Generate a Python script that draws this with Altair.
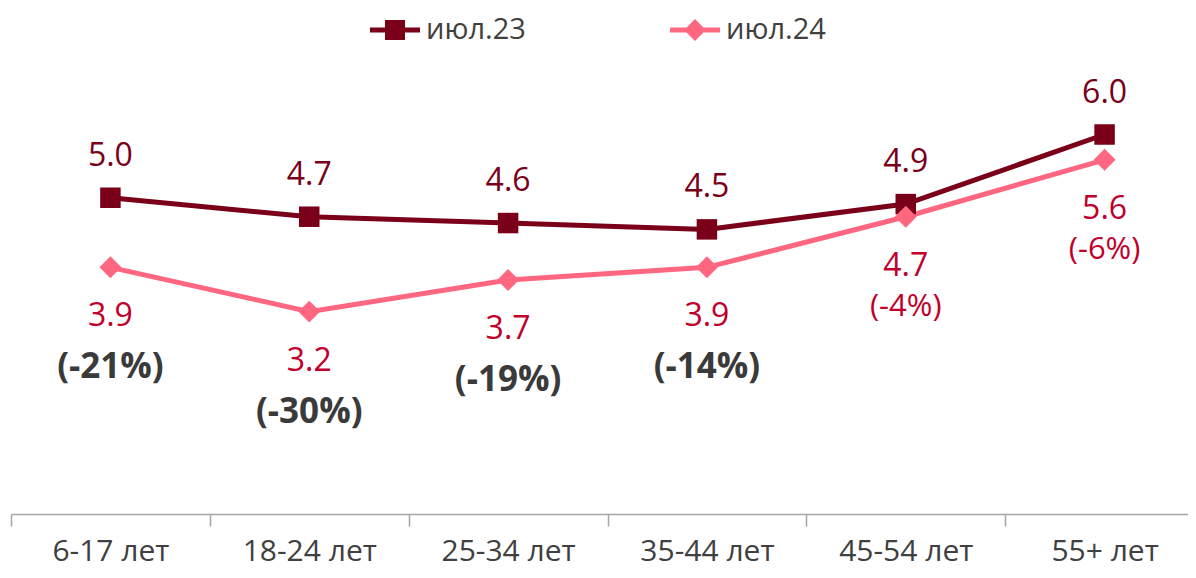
import altair as alt
import pandas as pd

categories = ["6-17 лет", "18-24 лет", "25-34 лет", "35-44 лет", "45-54 лет", "55+ лет"]
jul23 = [5.0, 4.7, 4.6, 4.5, 4.9, 6.0]
jul24 = [3.9, 3.2, 3.7, 3.9, 4.7, 5.6]
change_pct = [-21, -30, -19, -14, -4, -6]
series_names = ["июл.23", "июл.24"]

DARK = "#7A0019"
PINK = "#FF6680"
CRIMSON = "#C0002B"
GRAY = "#3A3A3A"
FONT = "Open Sans"

rows = []
for i, c in enumerate(categories):
    rows.append({"cat": c, "series": series_names[0], "value": jul23[i],
                 "label": f"{jul23[i]:.1f}", "change": 0, "chg_label": ""})
    rows.append({"cat": c, "series": series_names[1], "value": jul24[i],
                 "label": f"{jul24[i]:.1f}", "change": change_pct[i],
                 "chg_label": f"({change_pct[i]}%)"})
df = pd.DataFrame(rows)

x = alt.X("cat:N", sort=categories,
          scale=alt.Scale(type="band", paddingInner=0, paddingOuter=0, range=[0, 1193]),
          axis=alt.Axis(title=None, labelAngle=0, tickBand="extent",
                        domainColor="#A6A6A6", tickColor="#A6A6A6",
                        domainWidth=1.5, tickWidth=1.5, tickSize=12,
                        labelFont=FONT, labelFontSize=30, labelColor="#404040",
                        labelPadding=10, grid=False))
y = alt.Y("value:Q", scale=alt.Scale(domain=[0, 8]), axis=None)

color_scale = alt.Scale(domain=series_names, range=[DARK, PINK])

# legend glyphs: a short line with a square / diamond in the middle
sq_path = ("M-1.667,-0.167L1.667,-0.167L1.667,0.167L-1.667,0.167Z "
           "M-0.667,-0.667L0.667,-0.667L0.667,0.667L-0.667,0.667Z")
dia_path = ("M-1.667,-0.167L1.667,-0.167L1.667,0.167L-1.667,0.167Z "
            "M0,-0.733L0.733,0L0,0.733L-0.733,0Z")

LEG = alt.Legend(title=None, orient="none", legendX=369, legendY=7,
                 direction="horizontal", symbolSize=900, symbolOpacity=1,
                 symbolStrokeWidth=0, labelFont=FONT, labelFontSize=29,
                 labelColor="#404040", labelOffset=16, columnPadding=143,
                 padding=0)

base = alt.Chart(df)
s23 = base.transform_filter(alt.datum.series == series_names[0])
s24 = base.transform_filter(alt.datum.series == series_names[1])

line23 = s23.mark_line(strokeWidth=5, color=DARK).encode(x=x, y=y)
line24 = s24.mark_line(strokeWidth=5, color=PINK).encode(x=x, y=y)

pts23 = s23.mark_point(shape="square", filled=True, size=420, opacity=1, color=DARK).encode(x=x, y=y)
pts24 = s24.mark_point(shape="diamond", filled=True, size=480, opacity=1, color=PINK).encode(x=x, y=y)

legend_layer = base.mark_point(filled=True, opacity=0).encode(
    x=x, y=y,
    color=alt.Color("series:N", scale=color_scale, legend=LEG),
    shape=alt.Shape("series:N", scale=alt.Scale(domain=series_names, range=[sq_path, dia_path]), legend=LEG),
)

lab23 = s23.mark_text(dy=-42, fontSize=32, font=FONT, color=DARK).encode(x=x, y=y, text="label:N")
lab24 = s24.mark_text(dy=49, fontSize=32, font=FONT, color=CRIMSON).encode(x=x, y=y, text="label:N")
chg_big = s24.transform_filter(alt.datum.change <= -10).mark_text(
    dy=100, fontSize=35, font=FONT, fontWeight="bold", color=GRAY).encode(x=x, y=y, text="chg_label:N")
chg_small = s24.transform_filter(alt.datum.change > -10).mark_text(
    dy=90, fontSize=31, font=FONT, color=CRIMSON).encode(x=x, y=y, text="chg_label:N")

chart = alt.layer(line23, line24, pts23, pts24, legend_layer, lab23, lab24, chg_big, chg_small).properties(
    width=1177, height=506,
    padding={"left": 3, "top": 0, "right": 0, "bottom": 56},
    autosize=alt.AutoSizeParams(type="none"),
).configure_view(stroke=None)

chart.save("out.html", embed_options={"renderer": "svg", "actions": False})
